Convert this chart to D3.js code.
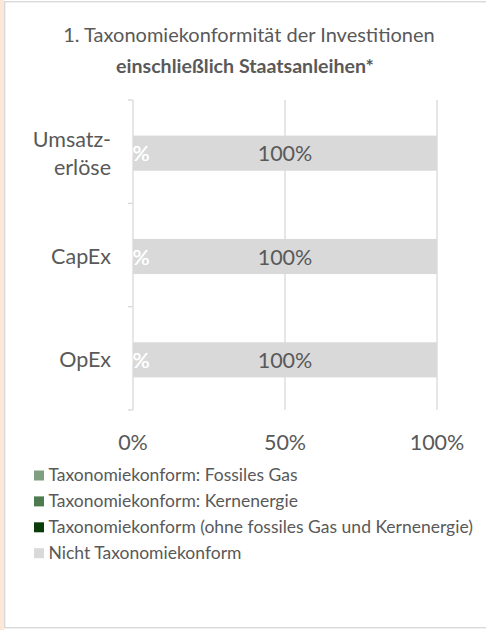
<!DOCTYPE html>
<html>
<head>
<meta charset="utf-8">
<script src="https://cdn.jsdelivr.net/npm/d3@7"></script>
<style>
  html, body { margin: 0; padding: 0; background: #ffffff; }
  svg { display: block; }
  text { font-family: Lato, "Open Sans", sans-serif; }
</style>
</head>
<body>
<svg id="chart" width="486" height="630"></svg>
<script>
// ---- data ----
const titleLines = ["1. Taxonomiekonformität der Investitionen", "einschließlich Staatsanleihen*"];
const categories = ["Umsatzerlöse", "CapEx", "OpEx"];
const categoryLabels = [["Umsatz-", "erlöse"], ["CapEx"], ["OpEx"]];
const seriesNames = [
  "Taxonomiekonform: Fossiles Gas",
  "Taxonomiekonform: Kernenergie",
  "Taxonomiekonform (ohne fossiles Gas und Kernenergie)",
  "Nicht Taxonomiekonform"
];
const fossilGas = [0, 0, 0];
const nuclear = [0, 0, 0];
const alignedOther = [0, 0, 0];
const notAligned = [100, 100, 100];
const xTicks = [0, 50, 100];

const seriesValues = [fossilGas, nuclear, alignedOther, notAligned];
const colors = ["#7f9f80", "#4e7a4f", "#0b3d0b", "#d9d9d9"];
const labelColors = ["#ffffff", "#ffffff", "#ffffff", "#595959"];

const svg = d3.select("#chart");
const textColor = "#595959";

// frame
svg.append("rect").attr("x", 0).attr("y", 0).attr("width", 4).attr("height", 630).attr("fill", "#fce7d8");
svg.append("rect").attr("x", 4.7).attr("y", 1.7).attr("width", 520).attr("height", 626)
  .attr("fill", "#ffffff").attr("stroke", "#d9d9d9").attr("stroke-width", 1.4);

// title
svg.append("text").attr("x", 249).attr("y", 42).attr("text-anchor", "middle")
  .attr("fill", textColor).style("font-size", "20px").text(titleLines[0]);
svg.append("text").attr("x", 245).attr("y", 73).attr("text-anchor", "middle")
  .attr("fill", textColor).style("font-size", "19.6px").style("font-weight", "bold").text(titleLines[1]);

// scales
const x = d3.scaleLinear().domain([0, 100]).range([133, 437]);
const y = d3.scaleBand().domain(categories).range([100, 410]).paddingInner(0.66).paddingOuter(0.33);
const yStep = y.step();

// gridlines
const gridG = svg.append("g");
gridG.selectAll("line").data(xTicks.filter(d => d > 0)).join("line")
  .attr("x1", d => x(d)).attr("x2", d => x(d)).attr("y1", 100).attr("y2", 410)
  .attr("stroke", "#d9d9d9").attr("stroke-width", 1.3);

// y axis line and ticks at band boundaries
svg.append("line").attr("x1", x(0)).attr("x2", x(0)).attr("y1", 100).attr("y2", 410)
  .attr("stroke", "#d9d9d9").attr("stroke-width", 1.3);
const boundaries = d3.range(categories.length + 1).map(i => 100 + i * yStep);
svg.selectAll(".ytick").data(boundaries).join("line")
  .attr("x1", x(0) - 5).attr("x2", x(0)).attr("y1", d => d).attr("y2", d => d)
  .attr("stroke", "#d9d9d9").attr("stroke-width", 1.3);

// stacked data
const stackData = categories.map((c, i) => {
  const o = { cat: c };
  seriesNames.forEach((s, j) => o[s] = seriesValues[j][i]);
  return o;
});
const stacked = d3.stack().keys(seriesNames)(stackData);

// bars
const barsG = svg.append("g");
stacked.forEach((layer, j) => {
  barsG.selectAll(null).data(layer).join("rect")
    .attr("x", d => x(d[0]))
    .attr("y", d => y(d.data.cat) + 1.5)
    .attr("width", d => x(d[1]) - x(d[0]))
    .attr("height", y.bandwidth())
    .attr("fill", colors[j]);
});

// labels
const labelsG = svg.append("g");
stacked.forEach((layer, j) => {
  labelsG.selectAll(null).data(layer).join("text")
    .attr("x", d => (x(d[0]) + x(d[1])) / 2 + (j < 3 ? 2 : 0))
    .attr("y", d => y(d.data.cat) + 1.5 + y.bandwidth() / 2 + 8)
    .attr("text-anchor", "middle")
    .attr("fill", labelColors[j])
    .attr("fill-opacity", j < 3 ? 0.8 : 1)
    .style("font-size", "21.5px")
    .text(d => (d[1] - d[0]) + "%");
});

// category labels
const catG = svg.append("g");
categories.forEach((c, i) => {
  const lines = categoryLabels[i];
  const cy = y(c) + y.bandwidth() / 2 + 9;
  const t = catG.append("text").attr("x", 111).attr("text-anchor", "end")
    .attr("fill", textColor).style("font-size", "21.5px");
  lines.forEach((ln, k) => {
    t.append("tspan").attr("x", 111)
      .attr("y", cy + (k - (lines.length - 1) / 2) * 28)
      .text(ln);
  });
});

// x tick labels
svg.selectAll(".xlab").data(xTicks).join("text")
  .attr("x", d => x(d)).attr("y", 450).attr("text-anchor", "middle")
  .attr("fill", textColor).style("font-size", "21.5px")
  .text(d => d + "%");

// legend
const legG = svg.append("g");
seriesNames.forEach((s, j) => {
  const by = 481 + j * 25.9;
  legG.append("rect").attr("x", 34).attr("y", by - 10.5).attr("width", 10).attr("height", 10).attr("fill", colors[j]);
  legG.append("text").attr("x", 48.5).attr("y", by).attr("fill", textColor)
    .style("font-size", "17.5px").text(s);
});
</script>
</body>
</html>
